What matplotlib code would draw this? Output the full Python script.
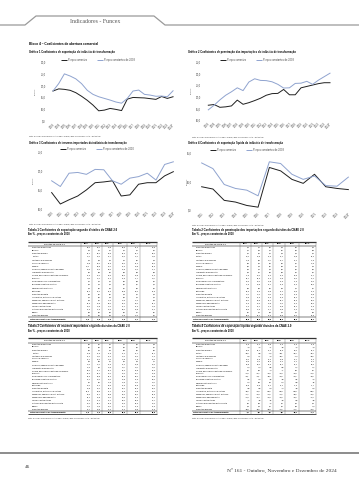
import matplotlib
matplotlib.use("Agg")
import matplotlib.pyplot as plt

# ---------------- data ----------------
years_g1 = list(range(2003, 2025))
g1_correntes = [17.7, 18.6, 18.4, 18.0, 17.0, 15.5, 13.8, 11.8, 9.4, 9.7, 10.4, 10.0, 9.5,
                14.3, 15.0, 14.9, 14.8, 14.5, 14.2, 15.4, 14.6, 15.3]
g1_constantes = [17.7, 20.8, 24.9, 24.0, 22.8, 20.8, 18.0, 16.3, 15.3, 14.6, 13.9, 13.1, 12.6,
                 14.6, 17.7, 18.1, 16.3, 16.0, 15.5, 15.6, 15.3, 17.8]

years_g2 = list(range(2003, 2025))
g2_correntes = [16.5, 16.8, 15.6, 15.8, 16.2, 18.7, 16.9, 17.6, 18.5, 19.5, 20.8, 21.5, 21.6,
                23.3, 21.0, 21.0, 24.0, 24.6, 25.2, 25.8, 26.2, 26.2]
g2_constantes = [14.5, 16.5, 18.8, 20.8, 22.3, 24.0, 22.8, 26.5, 27.9, 27.2, 27.1, 26.6, 25.5,
                 23.9, 24.0, 25.9, 26.0, 26.8, 25.5, 27.3, 28.8, 30.3]

years_g3 = list(range(2010, 2025))
g3_correntes = [14.4, 11.4, 12.5, 13.5, 15.1, 17.0, 17.2, 17.5, 13.5, 13.8, 16.6, 17.0, 17.0, 18.8, 19.9]
g3_constantes = [17.5, 16.0, 19.5, 19.7, 19.2, 20.5, 20.4, 17.5, 16.6, 18.2, 18.6, 19.5, 17.7, 21.8, 22.5]

years_g4 = list(range(2011, 2025))
g4_correntes = [9.1, 8.7, 6.7, 6.4, 5.8, 5.5, 12.5, 11.9, 10.4, 9.7, 11.3, 9.1, 8.8, 8.6]
g4_constantes = [13.3, 12.3, 9.5, 8.8, 8.5, 7.5, 13.5, 13.2, 11.3, 10.4, 11.0, 9.3, 9.2, 10.8]

tab_years = ["2019", "2020", "2021", "2022", "2023", "2024*"]
divisoes = ["Produtos alimentícios", "Bebidas", "Produtos do fumo", "Têxteis",
            "Vestuário e acessórios", "Couros e calçados", "Madeira",
            "Celulose, papel e produtos de papel", "Impressão e reprodução",
            "Coque, derivados do petróleo e biocomb.", "Químicos",
            "Farmoquímicos e farmacêuticos", "Borracha e material plástico",
            "Minerais não-metálicos", "Metalurgia", "Produtos de metal",
            "Informática, eletrônicos e ópticos", "Máquinas, aparelhos e mat. elétricos",
            "Máquinas e equipamentos", "Veículos automotores",
            "Outros equipamentos de transporte", "Móveis", "Produtos diversos"]
total_label = "Total da indústria de transformação"

tab1_values = [
    [27.5, 30.1, 29.8, 28.9, 31.2, 31.8], [1.3, 1.2, 1.1, 1.2, 1.1, 1.0],
    [62.1, 58.4, 60.3, 65.2, 63.7, 66.5], [11.2, 12.5, 13.1, 12.0, 11.4, 11.8],
    [1.9, 1.8, 1.9, 2.2, 2.0, 1.9], [29.8, 30.5, 33.6, 34.0, 31.2, 32.5],
    [43.5, 47.8, 50.1, 46.2, 44.8, 47.3], [38.6, 40.2, 39.5, 41.8, 42.5, 45.1],
    [0.4, 0.3, 0.4, 0.3, 0.3, 0.3], [15.6, 20.4, 18.2, 17.5, 19.8, 21.2],
    [11.8, 11.2, 12.4, 12.9, 11.7, 11.5], [5.1, 5.4, 5.2, 5.6, 5.8, 6.0],
    [7.6, 7.2, 7.9, 8.1, 7.5, 7.4], [5.9, 6.1, 6.8, 6.5, 6.2, 6.0],
    [36.4, 38.1, 35.2, 33.8, 35.5, 34.9], [4.8, 4.5, 5.0, 5.3, 5.1, 4.9],
    [4.2, 4.0, 4.3, 4.6, 4.4, 4.2], [9.8, 9.5, 10.2, 10.6, 10.1, 9.8],
    [17.3, 16.8, 17.5, 18.4, 18.0, 17.1], [12.5, 10.8, 11.9, 13.4, 12.2, 10.6],
    [52.3, 45.6, 40.2, 47.5, 50.8, 53.4], [5.8, 6.4, 6.9, 6.2, 5.7, 5.5],
    [9.6, 9.1, 9.8, 10.3, 10.0, 9.7]]
tab1_total = [15.6, 15.9, 16.2, 16.0, 15.7, 16.1]

tab2_values = [
    [4.9, 4.7, 5.0, 5.3, 5.6, 5.9], [4.1, 3.8, 4.2, 4.5, 4.6, 4.8],
    [1.2, 1.0, 1.1, 1.3, 1.2, 1.4], [21.5, 20.8, 24.3, 25.1, 24.8, 27.2],
    [10.8, 9.9, 11.5, 12.7, 13.4, 14.9], [8.3, 7.6, 8.4, 9.2, 9.5, 10.3],
    [2.6, 2.3, 2.5, 2.8, 2.7, 2.9], [7.8, 7.2, 7.9, 8.4, 8.1, 8.6],
    [0.8, 0.7, 0.9, 0.9, 1.0, 1.0], [14.9, 13.5, 19.2, 21.6, 18.9, 19.7],
    [36.7, 37.9, 41.2, 42.8, 40.5, 43.1], [38.2, 40.5, 42.8, 41.6, 42.3, 44.0],
    [14.3, 13.8, 15.1, 15.9, 16.2, 17.0], [6.3, 5.8, 6.2, 6.8, 7.1, 7.5],
    [17.6, 16.3, 19.8, 21.4, 20.9, 23.2], [11.2, 10.4, 11.8, 12.6, 12.9, 13.8],
    [51.8, 53.6, 56.3, 55.9, 57.2, 59.4], [31.5, 32.8, 35.4, 36.1, 37.3, 39.0],
    [41.6, 40.2, 43.8, 45.0, 46.2, 47.5], [14.2, 13.1, 14.6, 15.8, 17.4, 19.6],
    [48.9, 45.3, 43.7, 46.8, 49.2, 51.5], [4.5, 4.1, 4.8, 5.2, 5.4, 5.8],
    [28.4, 27.1, 29.6, 30.8, 31.5, 32.9]]
tab2_total = [22.8, 22.5, 24.9, 25.6, 25.9, 27.1]

tab3_values = [
    [6.2, 6.5, 7.1, 7.4, 7.0, 7.3], [8.5, 8.1, 8.9, 9.4, 9.1, 9.5],
    [5.6, 5.2, 5.9, 6.3, 6.1, 6.4], [22.8, 21.9, 25.3, 26.4, 25.7, 27.1],
    [12.4, 11.6, 13.2, 14.0, 13.5, 14.2], [13.1, 12.5, 14.0, 14.8, 14.3, 15.0],
    [6.8, 6.3, 7.2, 7.6, 7.3, 7.7], [11.9, 11.2, 12.6, 13.4, 12.8, 13.5],
    [10.2, 9.6, 10.9, 11.5, 11.0, 11.6], [28.5, 26.1, 33.4, 35.2, 31.8, 32.6],
    [35.2, 36.4, 40.1, 41.5, 38.7, 40.3], [33.6, 35.8, 37.2, 36.9, 37.5, 38.8],
    [24.1, 23.5, 26.0, 26.8, 25.9, 27.0], [9.7, 9.1, 10.3, 10.9, 10.5, 11.0],
    [16.5, 15.4, 18.3, 19.6, 18.8, 20.1], [15.8, 15.0, 17.2, 18.1, 17.6, 18.5],
    [47.3, 48.9, 52.1, 51.6, 52.8, 54.5], [30.2, 31.1, 33.8, 34.5, 35.0, 36.3],
    [27.4, 26.8, 29.5, 30.6, 31.2, 32.4], [24.6, 23.2, 26.1, 27.5, 28.3, 29.7],
    [38.1, 36.4, 35.9, 38.2, 39.6, 41.0], [11.3, 10.6, 12.0, 12.7, 12.3, 12.9],
    [21.7, 20.9, 23.4, 24.2, 24.8, 25.6]]
tab3_total = [19.5, 19.2, 21.8, 22.6, 21.9, 22.8]

tab4_values = [
    [22.6, 25.4, 24.8, 23.6, 25.6, 25.9], [-2.8, -2.6, -3.1, -3.3, -3.5, -3.8],
    [60.9, 57.4, 59.2, 63.9, 62.5, 65.1], [-10.3, -8.3, -11.2, -13.1, -13.4, -15.4],
    [-8.9, -8.1, -9.6, -10.5, -11.4, -13.0], [21.5, 22.9, 25.2, 24.8, 21.7, 22.2],
    [40.9, 45.5, 47.6, 43.4, 42.1, 44.4], [30.8, 33.0, 31.6, 33.4, 34.4, 36.5],
    [-0.4, -0.4, -0.5, -0.6, -0.7, -0.7], [0.7, 6.9, -1.0, -4.1, 0.9, 1.5],
    [-24.9, -26.7, -28.8, -29.9, -28.8, -31.6], [-33.1, -35.1, -37.6, -36.0, -36.5, -38.0],
    [-6.7, -6.6, -7.2, -7.8, -8.7, -9.6], [-0.4, 0.3, 0.6, -0.3, -0.9, -1.5],
    [18.8, 21.8, 15.4, 12.4, 14.6, 11.7], [-6.4, -5.9, -6.8, -7.3, -7.8, -8.9],
    [-47.6, -49.6, -52.0, -51.3, -52.8, -55.2], [-21.7, -23.3, -25.2, -25.5, -27.2, -29.2],
    [-24.3, -23.4, -26.3, -26.6, -28.2, -30.4], [-1.7, -2.3, -2.7, -2.4, -5.2, -9.0],
    [3.4, 0.3, -3.5, 0.7, 1.6, 1.9], [1.3, 2.3, 2.1, 1.0, 0.3, -0.3],
    [-18.8, -18.0, -19.8, -20.5, -21.5, -23.2]]
tab4_total = [-7.2, -6.6, -8.7, -9.6, -10.2, -11.0]

# ---------------- page ----------------
W, H = 359, 480
fig = plt.figure(figsize=(W / 100, H / 100), dpi=100)
fig.patch.set_facecolor("white")
bg = fig.add_axes([0, 0, 1, 1])
bg.set_xlim(0, W)
bg.set_ylim(H, 0)
bg.axis("off")

SANS = "Liberation Sans"
SERIF = "Liberation Serif"
C_CUR = "#1f1f1f"
C_CON = "#8fa3cf"


def txt(x, y, s, size=1.8, family=SANS, ha="left", va="center", **kw):
    bg.text(x, y, s, fontsize=size, family=family, ha=ha, va=va, **kw)


def line(xs, ys, lw=0.3, color="black"):
    bg.plot(xs, ys, color=color, lw=lw, solid_capstyle="butt")


def fmt(v):
    return f"{v:.1f}".replace(".", ",")


# header tab
line([0, 25, 36, 154, 165, W], [25, 25, 16, 16, 25, 25], lw=0.9, color="#9a9a9a")
txt(95, 21.5, "Indicadores - Funcex", size=4.2, family=SERIF, ha="center", color="#555555")

txt(29, 44, "Bloco 4 – Coeficientes de abertura comercial", size=2.3, weight="bold")
txt(29, 52, "Gráfico 1 Coeficientes de exportação da indústria de transformação", size=1.9, weight="bold")
txt(188, 52, "Gráfico 2 Coeficientes de penetração das importações da indústria de transformação", size=1.9, weight="bold")
txt(29, 143, "Gráfico 3 Coeficientes de insumos importados da indústria de transformação", size=1.9, weight="bold")
txt(188, 143, "Gráfico 4 Coeficientes de exportação líquida da indústria de transformação", size=1.9, weight="bold")

fonte_g = ("Fonte: Elaborado pela Funcex a partir de dados do BCB, IBGE e Secex/MDIC. "
           "Nota: * Estimativas.")


def chart(x0, x1, y0, y1, years, cur, con, ylo, yhi, step, leg_y, leg_x, con_label, src_y, src_x, ylab_x):
    ax = fig.add_axes([x0 / W, 1 - y1 / H, (x1 - x0) / W, (y1 - y0) / H])
    ax.plot(years, cur, color=C_CUR, lw=0.7)
    ax.plot(years, con, color=C_CON, lw=0.7)
    ax.set_xlim(years[0] - 0.5, years[-1] + 0.5)
    ax.set_ylim(ylo, yhi)
    ticks = [ylo + i * step for i in range(int(round((yhi - ylo) / step)) + 1)]
    ax.set_yticks(ticks)
    ax.set_yticklabels([fmt(t) for t in ticks], fontsize=1.9, family=SANS, color="#404040")
    ax.set_xticks(years)
    labs = [str(y) for y in years]
    labs[-1] = labs[-1] + "*"
    ax.set_xticklabels(labs, rotation=45, ha="right", rotation_mode="anchor",
                       fontsize=1.9, family=SANS, color="#404040")
    ax.tick_params(axis="x", length=0, pad=1.2)
    ax.tick_params(axis="y", length=0, pad=3.0)
    for s in ax.spines.values():
        s.set_visible(False)
    ax.patch.set_alpha(0)
    # legend
    lx = leg_x
    line([lx, lx + 6], [leg_y, leg_y], lw=0.7, color=C_CUR)
    txt(lx + 7, leg_y, "Preços correntes", size=1.8, color="#404040")
    line([lx + 36, lx + 42], [leg_y, leg_y], lw=0.7, color=C_CON)
    txt(lx + 43, leg_y, con_label, size=1.8, color="#404040")
    txt(ylab_x, (y0 + y1) / 2, "Em %", size=1.7, rotation=90, ha="center", color="#404040")
    txt(src_x, src_y, fonte_g, size=1.15, color="#333333")


chart(50.1, 175.9, 61.7, 121.3, years_g1, g1_correntes, g1_constantes, 5, 30, 5,
      60, 61, "Preços constantes de 2003", 136.7, 29, 35)
chart(205.4, 332.9, 62.3, 120.3, years_g2, g2_correntes, g2_constantes, 10, 35, 5,
      60, 220, "Preços constantes de 2003", 137.5, 191.5, 191)
chart(47.3, 177.7, 152.3, 209.3, years_g3, g3_correntes, g3_constantes, 10, 25, 5,
      149, 60, "Preços constantes de 2010", 224.5, 29, 33)
chart(196, 354, 153.3, 210, years_g4, g4_correntes, g4_constantes, 5, 15, 5,
      150, 210, "Preços constantes de 2003", 225, 191.5, 187)


# ---------------- tables ----------------
def table(x0, edges, ytop, ybot, title, sub, values, total, src_y):
    txt(x0, ytop - 11.5, title, size=1.95, weight="bold")
    txt(x0, ytop - 7, sub, size=1.85, weight="bold")
    head_h = 4.5
    nrows = len(values) + 1
    rh = (ybot - ytop - head_h) / nrows
    xr = edges[-1]
    line([x0, xr], [ytop, ytop], lw=0.9, color="#333333")
    line([x0, xr], [ytop + head_h, ytop + head_h], lw=0.35)
    txt((x0 + edges[0]) / 2, ytop + head_h / 2, "Divisões da CNAE 2.0", size=1.5, ha="center")
    for i, yr in enumerate(tab_years):
        txt((edges[i] + edges[i + 1]) / 2, ytop + head_h / 2, yr, size=1.5, ha="center", weight="bold")
    for e in edges[:-1]:
        line([e, e], [ytop, ybot], lw=0.25, color="#555555")
    line([xr, xr], [ytop, ybot], lw=0.25, color="#555555")
    y = ytop + head_h
    for lab, vals in zip(divisoes, values):
        txt(x0 + 4, y + rh / 2, lab, size=1.45)
        for i, v in enumerate(vals):
            txt(edges[i + 1] - 1.2, y + rh / 2, fmt(v), size=1.45, ha="right")
        y += rh
    line([x0, xr], [y, y], lw=0.35)
    txt(x0 + 1.5, y + rh / 2, total_label, size=1.5, weight="bold")
    for i, v in enumerate(total):
        txt(edges[i + 1] - 1.2, y + rh / 2, fmt(v), size=1.5, ha="right", weight="bold")
    line([x0, xr], [ybot, ybot], lw=0.6, color="#333333")
    txt(x0, src_y, "Fonte: Elaborado pela Funcex a partir de dados do BCB, IBGE e Secex/MDIC. Nota: * Estimativas.",
        size=1.15, color="#333333")


left_edges = [81, 91.5, 102, 113, 127, 140, 157]
right_edges = [240, 251, 262, 273, 285, 299, 316]

table(28, left_edges, 241.5, 320.5,
      "Tabela 1 Coeficientes de exportação segundo divisões da CNAE 2.0",
      "Em % - preços constantes de 2018", tab1_values, tab1_total, 324)
table(191.5, right_edges, 241.5, 320.5,
      "Tabela 2 Coeficientes de penetração das importações segundo divisões da CNAE 2.0",
      "Em % - preços constantes de 2018", tab2_values, tab2_total, 324)
table(28, left_edges, 338, 414,
      "Tabela 3 Coeficientes de insumos importados segundo divisões da CNAE 2.0",
      "Em % - preços constantes de 2018", tab3_values, tab3_total, 418)
table(191.5, right_edges, 338, 414,
      "Tabela 4 Coeficientes de exportação líquida segundo divisões da CNAE 2.0",
      "Em % - preços constantes de 2018", tab4_values, tab4_total, 418)

# footer
line([0, W], [453, 453], lw=1.4, color="#8c8c8c")
txt(25, 467, "46", size=3.8, family=SERIF, color="#333333")
txt(337, 470.5, "Nº 161 - Outubro, Novembro e Dezembro de 2024", size=3.9, family=SERIF,
    ha="right", color="#333333")

fig.savefig("out.png", dpi=100)
